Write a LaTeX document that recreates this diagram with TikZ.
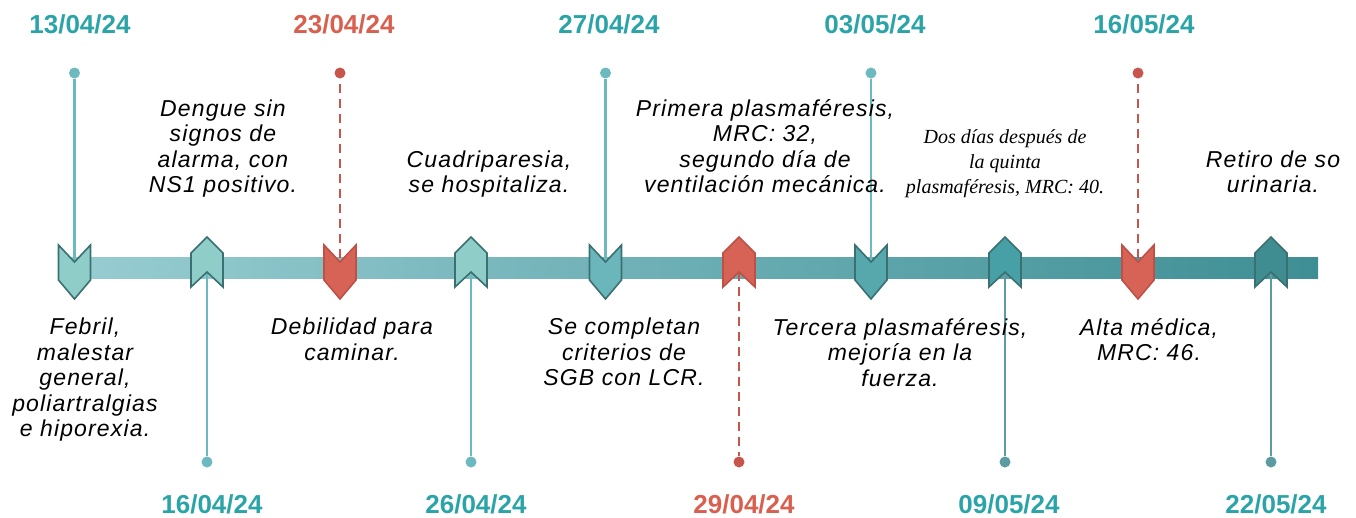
\documentclass[tikz,border=0pt]{standalone}
\usepackage{fontspec}
\setmainfont{Liberation Sans}
\newfontfamily\evfont[LetterSpace=5]{Liberation Sans}
\newfontfamily\serifit{Liberation Serif}
\definecolor{datetl}{RGB}{43,164,168}
\definecolor{datered}{RGB}{217,96,79}
\definecolor{barl}{RGB}{152,205,210}
\definecolor{barr}{RGB}{62,143,149}
\definecolor{chevA}{RGB}{142,205,200}
\definecolor{chevB}{RGB}{107,182,186}
\definecolor{chevC}{RGB}{86,168,173}
\definecolor{chevD}{RGB}{72,160,167}
\definecolor{chevE}{RGB}{63,140,145}
\definecolor{chevline}{RGB}{58,112,114}
\definecolor{chevred}{RGB}{214,99,86}
\definecolor{chevredline}{RGB}{190,80,70}
\definecolor{lineA}{RGB}{108,186,192}
\definecolor{lineB}{RGB}{92,155,162}
\definecolor{linered}{RGB}{200,85,75}
\begin{document}
\begin{tikzpicture}[x=1pt,y=-1pt]
        \tikzstyle{date}=[font=\fontsize{26}{28}\selectfont\bfseries,text=datetl,anchor=base,inner sep=0pt]
        \tikzstyle{event}=[align=center,font=\fontsize{23}{25.5}\selectfont\evfont\itshape,inner sep=0pt,
          execute at begin node=\strut,execute at end node=\strut]
        \tikzstyle{dot}=[circle,fill=lineA,inner sep=0pt,minimum size=11pt]
        \tikzstyle{stem}=[draw=lineA,line width=2.5pt]
        \tikzstyle{redstem}=[draw=linered,line width=2.5pt,dash pattern=on 9pt off 6pt]
        \tikzstyle{chev}=[draw=chevline,line width=1.6pt,line join=miter,fill=chevA]
        \useasboundingbox (0,0) rectangle (1356,517);
        % bar
        \shade[left color=barl,right color=barr] (62,257) rectangle (1318,278);
        % notches
        \coordinate (n1) at (74.5,262);
        \coordinate (n2) at (207,272);
        \coordinate (n3) at (340,262);
        \coordinate (n4) at (471,272);
        \coordinate (n5) at (605.5,262);
        \coordinate (n6) at (739,272);
        \coordinate (n7) at (871,262);
        \coordinate (n8) at (1005,272);
        \coordinate (n9) at (1138,262);
        \coordinate (n10) at (1271,272);
        % dots
        \node [dot] (d1) at (74.5,73) {};
        \node [dot] (d2) at (207,462) {};
        \node [dot,fill=linered] (d3) at (340,73) {};
        \node [dot] (d4) at (471,462) {};
        \node [dot] (d5) at (605.5,73) {};
        \node [dot,fill=linered] (d6) at (739,462) {};
        \node [dot] (d7) at (871,73) {};
        \node [dot,fill=lineB] (d8) at (1005,462) {};
        \node [dot,fill=linered] (d9) at (1138,73) {};
        \node [dot,fill=lineB] (d10) at (1271,462) {};
        % stems
        \path[stem] (d1) -- (n1);
        \path[stem] (n2) -- (d2);
        \path[redstem] (d3.south) ++(0,5) -- (n3);
        \path[stem] (n4) -- (d4);
        \path[stem] (d5) -- (n5);
        \path[redstem] (n6) -- (d6);
        \path[stem] (d7) -- (n7);
        \path[stem,draw=lineB] (n8) -- (d8);
        \path[redstem] (d9.south) ++(0,5) -- (n9);
        \path[stem,draw=lineB] (n10) -- (d10);
        % chevrons
        \draw[chev] (n1) ++(-16,-17) -- (n1) -- ++(16,-17) -- ++(0,35) -- ++(-16,19) -- ++(-16,-19) -- cycle;
        \draw[chev] (n2) -- ++(-16,15) -- ++(0,-34) -- ++(16,-16) -- ++(16,16) -- ++(0,34) -- cycle;
        \draw[chev,fill=chevred,draw=chevredline] (n3) ++(-16,-17) -- (n3) -- ++(16,-17) -- ++(0,35) -- ++(-16,19) -- ++(-16,-19) -- cycle;
        \draw[chev] (n4) -- ++(-16,15) -- ++(0,-34) -- ++(16,-16) -- ++(16,16) -- ++(0,34) -- cycle;
        \draw[chev,fill=chevB] (n5) ++(-16,-17) -- (n5) -- ++(16,-17) -- ++(0,35) -- ++(-16,19) -- ++(-16,-19) -- cycle;
        \draw[chev,fill=chevred,draw=chevredline] (n6) -- ++(-16,15) -- ++(0,-34) -- ++(16,-16) -- ++(16,16) -- ++(0,34) -- cycle;
        \draw[chev,fill=chevC] (n7) ++(-16,-17) -- (n7) -- ++(16,-17) -- ++(0,35) -- ++(-16,19) -- ++(-16,-19) -- cycle;
        \draw[chev,fill=chevD] (n8) -- ++(-16,15) -- ++(0,-34) -- ++(16,-16) -- ++(16,16) -- ++(0,34) -- cycle;
        \draw[chev,fill=chevred,draw=chevredline] (n9) ++(-16,-17) -- (n9) -- ++(16,-17) -- ++(0,35) -- ++(-16,19) -- ++(-16,-19) -- cycle;
        \draw[chev,fill=chevE] (n10) -- ++(-16,15) -- ++(0,-34) -- ++(16,-16) -- ++(16,16) -- ++(0,34) -- cycle;
        % dates
        \node [date] (t1) at (80,33) {13/04/24};
        \node [date] (t2) at (212,513) {16/04/24};
        \node [date,text=datered] (t3) at (344,33) {23/04/24};
        \node [date] (t4) at (476,513) {26/04/24};
        \node [date] (t5) at (609,33) {27/04/24};
        \node [date,text=datered] (t6) at (744,513) {29/04/24};
        \node [date] (t7) at (875,33) {03/05/24};
        \node [date] (t8) at (1009,513) {09/05/24};
        \node [date] (t9) at (1144,33) {16/05/24};
        \node [date] (t10) at (1276,513) {22/05/24};
        % events
        \node [event,anchor=north] (e1) at (85,318) {Febril,\\malestar\\general,\\poliartralgias\\e hiporexia.};
        \node [event,anchor=south] (e2) at (223,200.5) {Dengue sin\\signos de\\alarma, con\\NS1 positivo.};
        \node [event,anchor=north] (e3) at (352,318) {Debilidad para\\caminar.};
        \node [event,anchor=south] (e4) at (489,200.5) {Cuadriparesia,\\se hospitaliza.};
        \node [event,anchor=north] (e5) at (624,318) {Se completan\\criterios de\\SGB con LCR.};
        \node [event,anchor=south] (e6) at (765,200.5) {Primera plasmaféresis,\\MRC: 32,\\segundo día de\\ventilación mecánica.};
        \node [event,anchor=north] (e7) at (900,318) {Tercera plasmaféresis,\\mejoría en la\\fuerza.};
        \node [event,anchor=south,font=\fontsize{20}{25}\selectfont\serifit\itshape] (e8) at (1005,201.5) {Dos días después de\\la quinta\\plasmaféresis, MRC: 40.};
        \node [event,anchor=north] (e9) at (1149,318) {Alta médica,\\MRC: 46.};
        \node [event,anchor=south] (e10) at (1273,200.5) {Retiro de so\\urinaria.};
\end{tikzpicture}
\end{document}
